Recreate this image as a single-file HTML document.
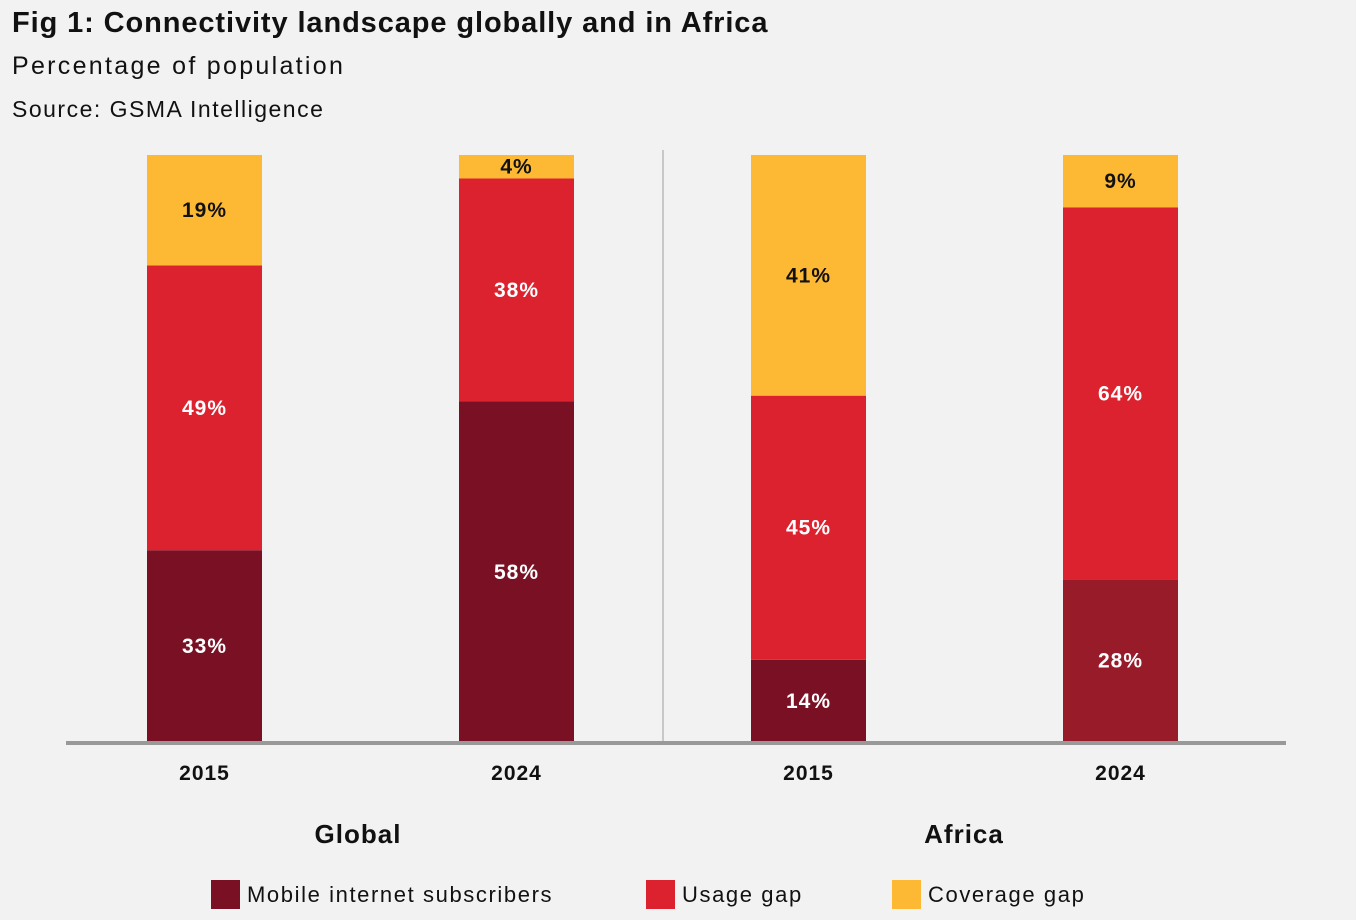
<!DOCTYPE html>
<html><head><meta charset="utf-8"><style>
body{margin:0;background:#f2f2f2;width:1356px;height:920px;overflow:hidden;font-family:"Liberation Sans",sans-serif;color:#111}
.t{position:absolute;left:12px;white-space:nowrap}
</style></head><body>
<div class="t" style="top:7px;font-size:29px;font-weight:bold;letter-spacing:0.9px">Fig 1: Connectivity landscape globally and in Africa</div>
<div class="t" style="top:52px;font-size:25px;letter-spacing:2.3px">Percentage of population</div>
<div class="t" style="top:96px;font-size:23px;letter-spacing:1.5px">Source: GSMA Intelligence</div>
<svg id="c" width="1356" height="920" style="position:absolute;left:0;top:0" font-family="Liberation Sans, sans-serif"></svg>
<script>
const categories=["2015","2024","2015","2024"];
const groups=["Global","Africa"];
const subscribers=[33,58,14,28];
const usageGap=[49,38,45,64];
const coverageGap=[19,4,41,9];
const seriesNames=["Mobile internet subscribers","Usage gap","Coverage gap"];
const svg=document.getElementById('c');const NS='http://www.w3.org/2000/svg';
function mk(t,a,p){const e=document.createElementNS(NS,t);for(const k in a)e.setAttribute(k,a[k]);(p||svg).appendChild(e);return e;}
const base=742,H=587;
const xs=[147,459,751,1063];const bw=115;
const cols=["#7a1024","#dc222f","#fdb933"];
const div=mk('line',{x1:663,x2:663,y1:150,y2:742,stroke:'#c8c8c8','stroke-width':2});

categories.forEach((c,i)=>{
  const vals=[subscribers[i],usageGap[i],coverageGap[i]];
  const total=Math.max(100,vals.reduce((a,b)=>a+b,0));
  const y=v=>base-v/total*H;
  let acc=0;
  vals.forEach((v,s)=>{
    let col=cols[s];if(s==0&&i==3)col="#981b29";
    const r=mk('rect',{x:xs[i],y:y(acc+v),width:bw,height:y(acc)-y(acc+v),fill:col});
    
    
    const t=mk('text',{x:xs[i]+bw/2,y:(y(acc)+y(acc+v))/2+7,'text-anchor':'middle','font-size':21,'font-weight':'bold','letter-spacing':1,fill:s==2?'#111':'#fff'});
    t.textContent=v+'%';
    
    acc+=v;
  });
  const yl=mk('text',{x:xs[i]+bw/2,y:780,'text-anchor':'middle','font-size':21,'font-weight':'bold','letter-spacing':1,fill:'#111'});
  yl.textContent=c;
});
const ax=mk('line',{x1:66,x2:1286,y1:743,y2:743,stroke:'#999','stroke-width':4});

[358,964].forEach((x,g)=>{const t=mk('text',{x:x,y:843,'text-anchor':'middle','font-size':26,'font-weight':'bold','letter-spacing':1,fill:'#111'});t.textContent=groups[g];
});
[211,646,892].forEach((x,s)=>{
  const r=mk('rect',{x:x,y:880,width:29,height:29,fill:cols[s]});
  
  const t=mk('text',{x:x+36,y:902,'font-size':22,'letter-spacing':1.6,fill:'#111'});t.textContent=seriesNames[s];
  
});
</script>
</body></html>
